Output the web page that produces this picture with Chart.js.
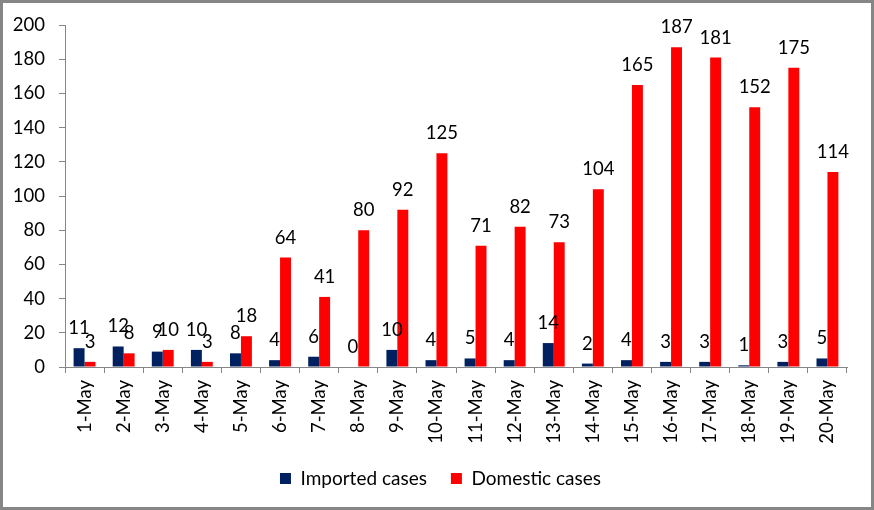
<!DOCTYPE html>
<html><head><meta charset="utf-8">
<script src="https://cdn.jsdelivr.net/npm/chart.js@4"></script>
<style>html,body{margin:0;padding:0;background:#fff}#wrap{width:874px;height:510px;position:relative}</style>
</head><body><div id="wrap"><canvas id="c" width="874" height="510"></canvas></div>
<script>
const categories = ["1-May","2-May","3-May","4-May","5-May","6-May","7-May","8-May","9-May","10-May","11-May","12-May","13-May","14-May","15-May","16-May","17-May","18-May","19-May","20-May"];
const importedCases = [11,12,9,10,8,4,6,0,10,4,5,4,14,2,4,3,3,1,3,5];
const domesticCases = [3,8,10,3,18,64,41,80,92,125,71,82,73,104,165,187,181,152,175,114];
const FONT = "Lato, 'Open Sans', sans-serif";

const borderPlugin = {
  id: 'border',
  afterLayout(chart) {
    if (chart.legend) { chart.legend.left += 15; chart.legend.right += 15; }
  },
  afterDraw(chart) {
    const ctx = chart.ctx;
    ctx.save();
    ctx.strokeStyle = '#868686';
    ctx.lineWidth = 3;
    ctx.strokeRect(1.5, 1.5, chart.width - 3, chart.height - 3);
    ctx.restore();
  }
};
const labelPlugin = {
  id: 'dlabels',
  afterDatasetsDraw(chart) {
    const ctx = chart.ctx;
    ctx.save();
    ctx.font = "18.5px " + FONT;
    ctx.fillStyle = '#000';
    ctx.textAlign = 'center';
    ctx.textBaseline = 'alphabetic';
    chart.data.datasets.forEach((ds, i) => {
      const meta = chart.getDatasetMeta(i);
      meta.data.forEach((bar, j) => {
        ctx.fillText(String(ds.data[j]), bar.x, bar.y - 14);
      });
    });
    ctx.restore();
  }
};

new Chart(document.getElementById('c'), {
  type: 'bar',
  data: {
    labels: categories,
    datasets: [
      {label: 'Imported cases', data: importedCases, backgroundColor: '#002060', categoryPercentage: 0.56, barPercentage: 1.0},
      {label: 'Domestic cases', data: domesticCases, backgroundColor: '#FF0000', categoryPercentage: 0.56, barPercentage: 1.0}
    ]
  },
  options: {
    responsive: false,
    animation: false,
    devicePixelRatio: 1,
    layout: {padding: {left: 4, right: 27, top: 22, bottom: 12}},
    plugins: {
      legend: {
        position: 'bottom',
        labels: {font: {family: FONT, size: 19}, color: '#000', boxWidth: 11, boxHeight: 11, padding: 24, useBorderRadius: false}
      },
      tooltip: {enabled: false}
    },
    scales: {
      y: {
        min: 0, max: 200,
        ticks: {stepSize: 20, font: {family: FONT, size: 18.5}, color: '#000', padding: 14},
        grid: {drawOnChartArea: false, drawTicks: true, tickLength: 6, color: '#868686'},
        border: {color: '#868686', width: 1},
        afterFit(s) { s.width = 61; }
      },
      x: {
        ticks: {font: {family: FONT, size: 18.5}, color: '#000', minRotation: 90, maxRotation: 90, padding: 7},
        grid: {drawOnChartArea: false, drawTicks: true, tickLength: 6, color: '#868686', offset: true},
        border: {color: '#868686', width: 1},
        afterFit(s) { s.height = 78; }
      }
    }
  },
  plugins: [borderPlugin, labelPlugin]
});
</script></body></html>
